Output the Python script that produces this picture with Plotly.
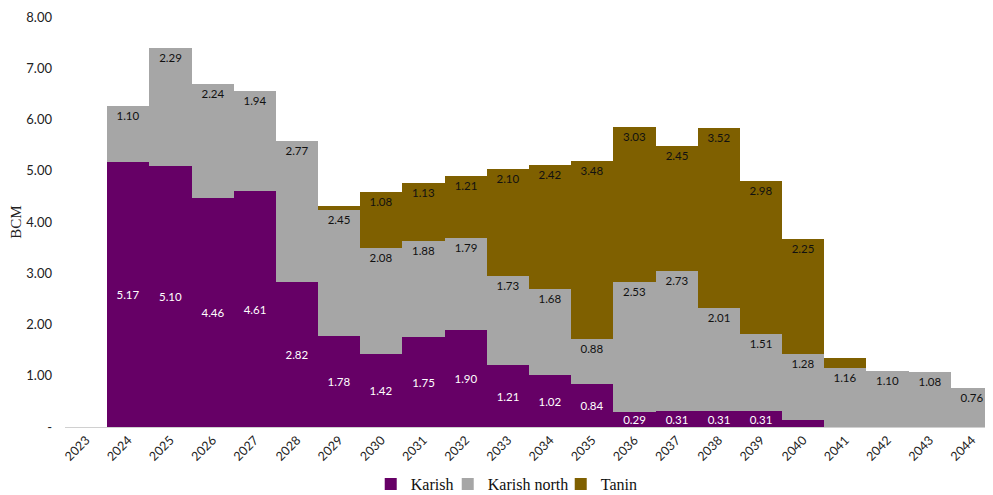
import plotly.graph_objects as go

years = [str(y) for y in range(2023, 2045)]
karish = [0, 5.17, 5.10, 4.46, 4.61, 2.82, 1.78, 1.42, 1.75, 1.90, 1.21, 1.02, 0.84,
          0.29, 0.31, 0.31, 0.31, 0.14, 0, 0, 0, 0]
karish_north = [0, 1.10, 2.29, 2.24, 1.94, 2.77, 2.45, 2.08, 1.88, 1.79, 1.73, 1.68, 0.88,
                2.53, 2.73, 2.01, 1.51, 1.28, 1.16, 1.10, 1.08, 0.76]
tanin = [0, 0, 0, 0, 0, 0, 0.09, 1.08, 1.13, 1.21, 2.10, 2.42, 3.48,
         3.03, 2.45, 3.52, 2.98, 2.25, 0.18, 0, 0, 0]
y_ticks = [0, 1, 2, 3, 4, 5, 6, 7, 8]
y_ticktext = ["-", "1.00", "2.00", "3.00", "4.00", "5.00", "6.00", "7.00", "8.00"]

# labels shown only where the reference shows them
def labels(vals, hide=()):
    return ["" if (v == 0 or y in hide) else f"{v:.2f}" for y, v in zip(years, vals)]

karish_txt = labels(karish, hide=("2040",))
north_txt = labels(karish_north)
tanin_txt = labels(tanin, hide=("2029", "2041"))

lab_font = dict(family="Lato, Open Sans, sans-serif", size=11.5)

fig = go.Figure()
fig.add_trace(go.Bar(x=years, y=karish, name="Karish", marker=dict(color="#660066", line=dict(width=0)),
                     text=karish_txt, textposition="inside", insidetextanchor="middle",
                     constraintext="none", textfont=dict(color="white", **lab_font),
                     textangle=0, legendwidth=32))
fig.add_trace(go.Bar(x=years, y=karish_north, name="Karish north", marker=dict(color="#A6A6A6", line=dict(width=0)),
                     text=north_txt, textposition="inside", insidetextanchor="end",
                     constraintext="none", textfont=dict(color="#111111", **lab_font),
                     textangle=0, legendwidth=68))
fig.add_trace(go.Bar(x=years, y=tanin, name="Tanin", marker=dict(color="#7F6000", line=dict(width=0)),
                     text=tanin_txt, textposition="inside", insidetextanchor="end",
                     constraintext="none", textfont=dict(color="#111111", **lab_font),
                     textangle=0))

# page body has an 8px margin, so the figure is sized to end at the window edge
fig.update_layout(
    barmode="stack", bargap=0, width=985, height=487,
    margin=dict(l=57, r=0, t=9, b=68, autoexpand=False),
    plot_bgcolor="white", paper_bgcolor="white",
    font=dict(family="Lato, Open Sans, sans-serif", size=12, color="#222222"),
    showlegend=True,
    legend=dict(orientation="h", x=0.476, xanchor="center", y=-0.098, yanchor="top",
                font=dict(family="Liberation Serif, serif", size=16, color="#111111"),
                traceorder="normal", itemwidth=30, tracegroupgap=0, entrywidthmode="pixels"),
    uniformtext=dict(mode="show", minsize=6),
    annotations=[dict(text="BCM", xref="paper", yref="paper", x=-0.053, y=0.5,
                      xanchor="center", yanchor="middle", textangle=-90, showarrow=False,
                      font=dict(family="Liberation Serif, serif", size=15, color="#222222"))],
)
fig.update_xaxes(type="category", tickangle=-45, showline=True, linecolor="#D0D0D0", linewidth=1,
                 ticks="", tickfont=dict(size=12.5, color="#222222"), automargin=False)
fig.update_yaxes(range=[0, 8], tickvals=y_ticks, ticktext=y_ticktext,
                 showgrid=False, zeroline=False, showline=False, ticks="",
                 tickfont=dict(size=13, color="#222222"), automargin=False, ticklabelstandoff=12)

fig.write_html("out.html")
